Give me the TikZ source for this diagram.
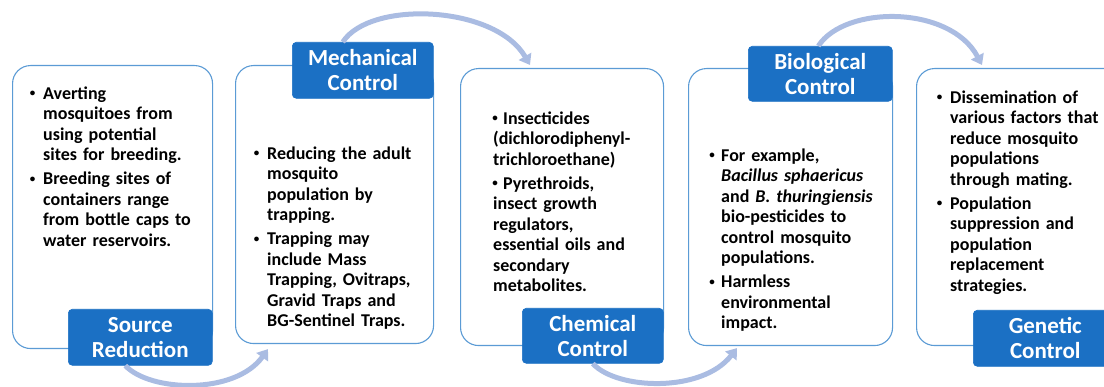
\documentclass[tikz,border=0pt]{standalone}
\usepackage{fontspec}
\setmainfont{Carlito}
\usetikzlibrary{arrows.meta,calc}
\definecolor{labblue}{RGB}{27,112,196}
\definecolor{edgeblue}{RGB}{91,155,213}
\definecolor{arrowblue}{RGB}{170,188,226}
\tikzset{
 mainbox/.style={draw=edgeblue, line width=1.1pt, fill=white, rounded corners=18pt, anchor=north west, inner sep=0pt},
 labbox/.style={fill=labblue, draw=labblue, line width=0.6pt, rounded corners=4pt, anchor=north west, text=white, font=\bfseries\fontsize{23}{25.3}\selectfont, align=center, inner sep=0pt},
 bodytext/.style={anchor=north west, inner sep=0pt, text width=175pt, align=left, font=\bfseries\fontsize{18}{20.5}\selectfont},
 flow/.style={draw=arrowblue, line width=5pt, -{Triangle[length=10pt,width=14pt]}},
}
\newcommand{\smallbul}{\raisebox{2.3pt}{\fontsize{11}{11}\selectfont\textbullet}}
\newcommand{\bl}[1][10.5pt]{\leavevmode\llap{\makebox[0pt][c]{\smallbul}\hspace{#1}}}
\begin{document}
\begin{tikzpicture}[x=1pt,y=-1pt]
\useasboundingbox (0,0) rectangle (1104,387);
\clip (0,0) rectangle (1104,387);
% main boxes
\node[mainbox, minimum width=200pt, minimum height=283pt] (b1) at (12,65) {};
\node[mainbox, minimum width=198pt, minimum height=278pt] (b2) at (235,65) {};
\node[mainbox, minimum width=203pt, minimum height=277pt] (b3) at (460,68) {};
\node[mainbox, minimum width=204pt, minimum height=277pt] (b4) at (688,68) {};
\node[mainbox, minimum width=210pt, minimum height=277pt] (b5) at (916,68) {};
% labels
\node[labbox, minimum width=144pt, minimum height=56pt] (l1) at (68,309) {Source\\Reduction};
\node[labbox, minimum width=141pt, minimum height=56pt] (l2) at (292,42) {Mechanical\\Control};
\node[labbox, minimum width=141pt, minimum height=55pt] (l3) at (522,308) {Chemical\\Control};
\node[labbox, minimum width=144pt, minimum height=55pt] (l4) at (748,46) {Biological\\Control};
\node[labbox, minimum width=144pt, minimum height=56pt] (l5) at (973,310) {Genetic\\Control};
% texts
\node[bodytext] (t1) at (43,84) {\rule{0pt}{15pt}\bl Averting\\ mosquitoes from\\ using potential\\ sites for breeding.\\[3.5pt] \bl Breeding sites of\\ containers range\\ from bottle caps to\\ water reservoirs.};
\node[bodytext] (t2) at (267,144) {\rule{0pt}{15pt}\bl Reducing the adult\\ mosquito\\ population by\\ trapping.\\[3.5pt] \bl Trapping may\\ include Mass\\ Trapping, Ovitraps,\\ Gravid Traps and\\ BG-Sentinel Traps.};
\node[bodytext] (t3) at (493,109) {\rule{0pt}{15pt}\makebox[4pt][c]{\smallbul}\hspace{6pt}Insecticides\\ (dichlorodiphenyl-\\ trichloroethane)\\[3.5pt] \makebox[4pt][c]{\smallbul}\hspace{6pt}Pyrethroids,\\ insect growth\\ regulators,\\ essential oils and\\ secondary\\ metabolites.};
\node[bodytext] (t4) at (721,146) {\rule{0pt}{15pt}\bl[9pt]For example,\\ \textit{Bacillus sphaericus}\\ and \textit{B. thuringiensis}\\ bio-pesticides to\\ control mosquito\\ populations.\\[3.5pt] \bl[9pt]Harmless\\ environmental\\ impact.};
\node[bodytext] (t5) at (950,88) {\rule{0pt}{15pt}\bl Dissemination of\\ various factors that\\ reduce mosquito\\ populations\\ through mating.\\[3.5pt] \bl Population\\ suppression and\\ population\\ replacement\\ strategies.};
% arrows
\draw[flow] ([xshift=-15pt]l1.south) .. controls (150,392) and (235,395) .. ([shift={(33,5)}]b2.south west);
\draw[flow] ([xshift=-20pt]l2.north) .. controls (370,0) and (495,5) .. ([shift={(70,-3)}]b3.north west);
\draw[flow] (l3.south) .. controls (617,390) and (702,393) .. ([shift={(49,2)}]b4.south west);
\draw[flow] ([xshift=-2pt]l4.north) .. controls (845,5) and (950,5) .. ([shift={(66,-3)}]b5.north west);
\end{tikzpicture}
\end{document}
